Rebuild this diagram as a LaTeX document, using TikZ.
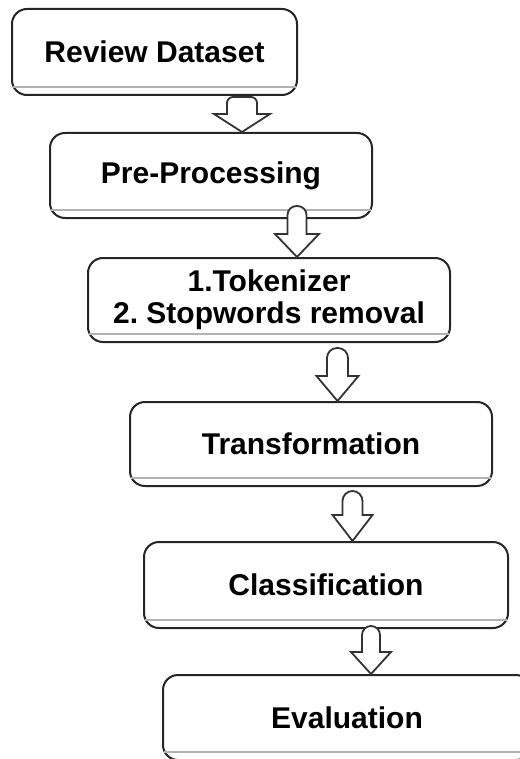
\documentclass[tikz,border=0pt]{standalone}
\usepackage{fontspec}
\setmainfont{Liberation Sans}
\usetikzlibrary{calc}
\frenchspacing
\tikzset{
  stage/.style={draw=black!85, line width=1pt, rounded corners=7.5pt, fill=white,
    font=\bfseries\fontsize{15}{16}\selectfont, align=center, inner sep=0pt},
  fatarr/.style={draw=black!80, line width=0.9pt, fill=white},
  shade line/.style={draw=black!30, line width=0.8pt}
}
% #1 from, #2 to, #3 x, #4 shaft, #5 head, #6 top offset, #7 head length, #8 corner
\newcommand{\fatarrow}[8]{%
  \coordinate (ax) at (#3,0);
  \draw[fatarr] ($(ax |- #2.north)+(-#4,-#7)$) [rounded corners=#8]
    -- ($(ax |- #1.south)+(-#4,#6)$) -- ($(ax |- #1.south)+(#4,#6)$) [sharp corners]
    -- ($(ax |- #2.north)+(#4,-#7)$) -- ($(ax |- #2.north)+(#5,-#7)$)
    -- (ax |- #2.north) -- ($(ax |- #2.north)+(-#5,-#7)$) -- cycle;
}

\begin{document}
\begin{tikzpicture}[x=0.5pt,y=-0.5pt]
\useasboundingbox (0,0) rectangle (519,759);
\node[stage, minimum width=142.5pt, minimum height=43pt] (rev) at (154.5,52) {Review Dataset};
\node[stage, minimum width=161pt, minimum height=42.5pt] (pre) at (211,175.5) {Pre-Processing};
\node[stage, minimum width=181pt, minimum height=42pt] (tok) at (269,300) {1.Tokenizer\\2. Stopwords removal};
\node[stage, minimum width=181pt, minimum height=42pt] (tra) at (311,444) {Transformation};
\node[stage, minimum width=182pt, minimum height=43pt] (cla) at (326,585) {Classification};
\node[stage, minimum width=184pt, minimum height=42.5pt] (eva) at (347,717.5) {Evaluation};
\foreach \n in {rev,pre,tok,tra,cla,eva}
  \draw[shade line] ($(\n.south west)+(2,-9)$) -- ($(\n.south east)+(-2,-9)$);
\fatarrow{rev}{pre}{242}{15}{28}{1}{18}{3pt}
\fatarrow{pre}{tok}{297}{9.5}{22}{-13}{23}{4.5pt}
\fatarrow{tok}{tra}{337.5}{10.5}{21}{5}{25}{5pt}
\fatarrow{tra}{cla}{352.5}{10}{20}{4}{26}{5pt}
\fatarrow{cla}{eva}{371}{9}{20}{-3}{22}{4.5pt}
\end{tikzpicture}
\end{document}
